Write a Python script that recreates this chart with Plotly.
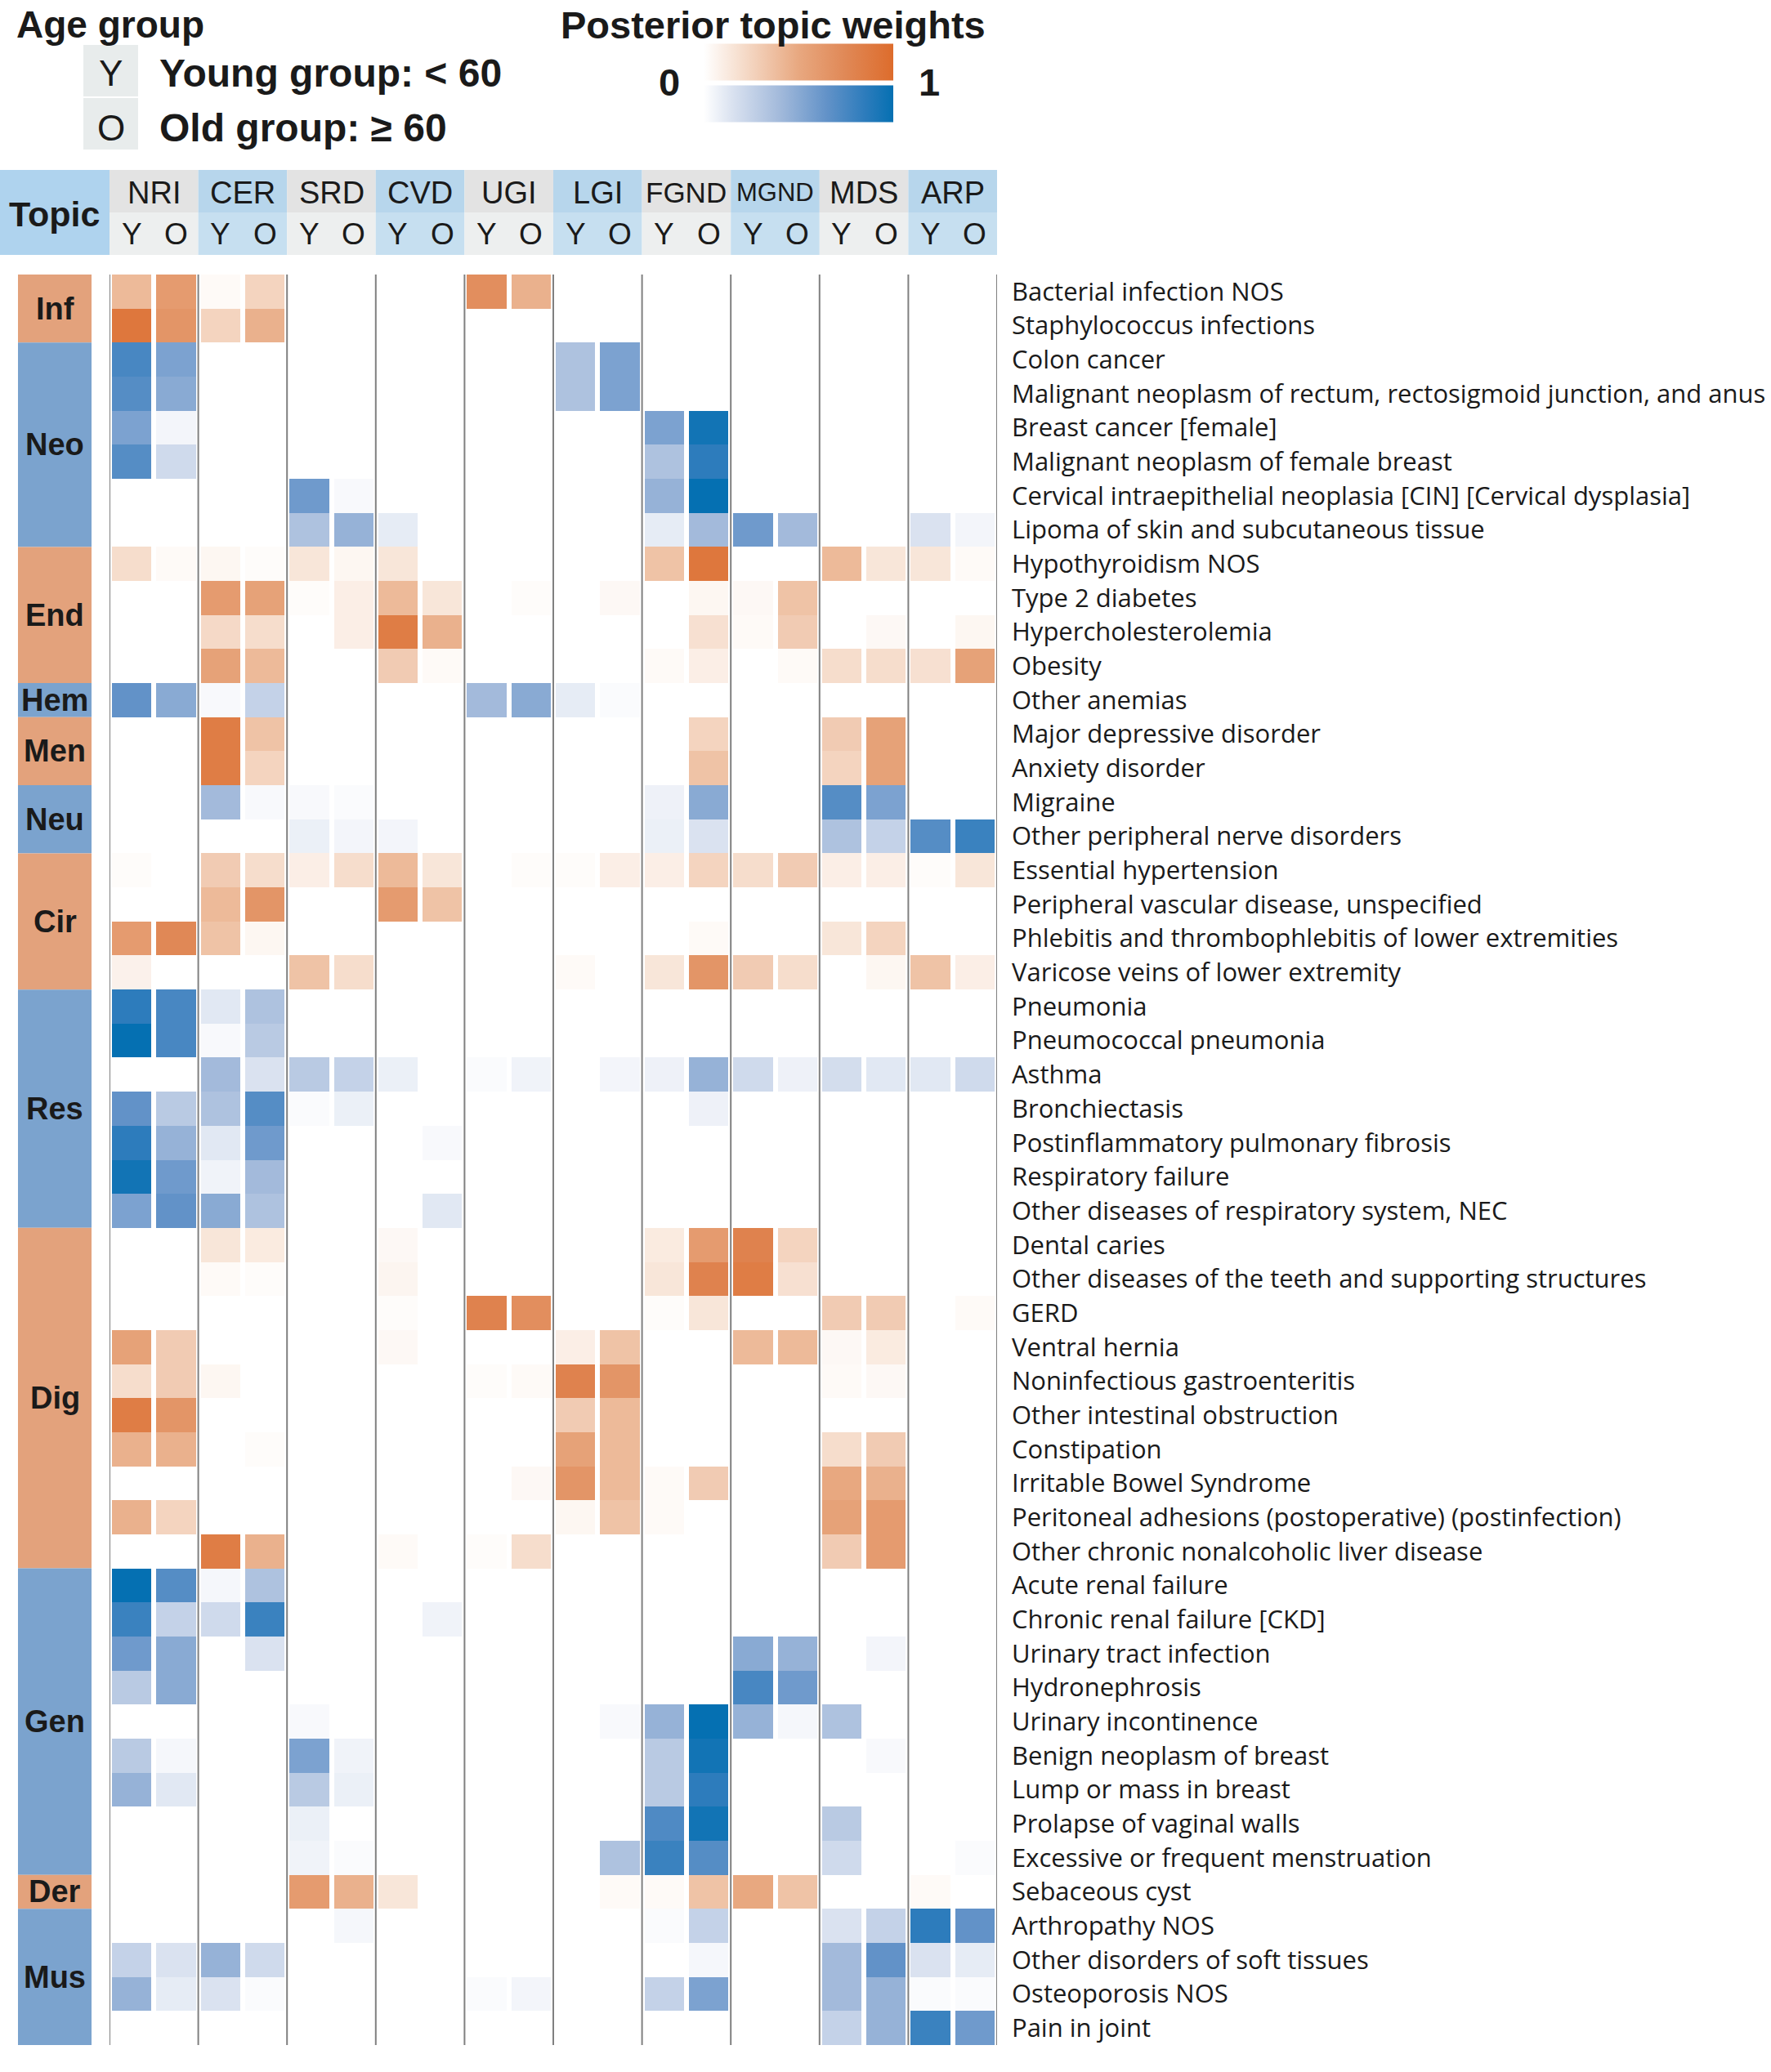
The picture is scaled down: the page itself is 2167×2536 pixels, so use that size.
import plotly.graph_objects as go

W, H = 2167, 2536

# ---------------- data ----------------
topics = ["NRI", "CER", "SRD", "CVD", "UGI", "LGI", "FGND", "MGND", "MDS", "ARP"]
age_groups = ["Y", "O"]

# column order: NRI Y, NRI O, CER Y, CER O, SRD Y, SRD O, CVD Y, CVD O, UGI Y, UGI O,
#               LGI Y, LGI O, FGND Y, FGND O, MGND Y, MGND O, MDS Y, MDS O, ARP Y, ARP O
inf_labels = ["Bacterial infection NOS", "Staphylococcus infections"]
inf_weights = [
    [0.40, 0.60, 0.03, 0.25, 0, 0, 0, 0, 0.70, 0.45, 0, 0, 0, 0, 0, 0, 0, 0, 0, 0],
    [0.90, 0.65, 0.25, 0.45, 0, 0, 0, 0, 0, 0, 0, 0, 0, 0, 0, 0, 0, 0, 0, 0],
]
neo_labels = ["Colon cancer", "Malignant neoplasm of rectum, rectosigmoid junction, and anus",
              "Breast cancer [female]", "Malignant neoplasm of female breast",
              "Cervical intraepithelial neoplasia [CIN] [Cervical dysplasia]",
              "Lipoma of skin and subcutaneous tissue"]
neo_weights = [
    [0.75, 0.55, 0, 0, 0, 0, 0, 0, 0, 0, 0.35, 0.55, 0, 0, 0, 0, 0, 0, 0, 0],
    [0.70, 0.50, 0, 0, 0, 0, 0, 0, 0, 0, 0.35, 0.55, 0, 0, 0, 0, 0, 0, 0, 0],
    [0.55, 0.05, 0, 0, 0, 0, 0, 0, 0, 0, 0, 0, 0.55, 0.95, 0, 0, 0, 0, 0, 0],
    [0.70, 0.20, 0, 0, 0, 0, 0, 0, 0, 0, 0, 0, 0.35, 0.85, 0, 0, 0, 0, 0, 0],
    [0, 0, 0, 0, 0.60, 0.03, 0, 0, 0, 0, 0, 0, 0.45, 1.00, 0, 0, 0, 0, 0, 0],
    [0, 0, 0, 0, 0.35, 0.45, 0.10, 0, 0, 0, 0, 0, 0.10, 0.40, 0.60, 0.40, 0, 0, 0.15, 0.05],
]
end_labels = ["Hypothyroidism NOS", "Type 2 diabetes", "Hypercholesterolemia", "Obesity"]
end_weights = [
    [0.20, 0.03, 0.05, 0.02, 0.15, 0.05, 0.15, 0, 0, 0, 0, 0, 0.35, 0.90, 0, 0, 0.40, 0.15, 0.15, 0.03],
    [0, 0, 0.60, 0.55, 0.02, 0.10, 0.40, 0.15, 0, 0.02, 0, 0.04, 0, 0.05, 0.04, 0.35, 0, 0, 0, 0],
    [0, 0, 0.22, 0.20, 0, 0.10, 0.85, 0.45, 0, 0, 0, 0, 0, 0.18, 0.03, 0.30, 0, 0.04, 0, 0.05],
    [0, 0, 0.55, 0.40, 0, 0, 0.30, 0.03, 0, 0, 0, 0, 0.03, 0.10, 0, 0.03, 0.20, 0.20, 0.18, 0.55],
]
hem_labels = ["Other anemias"]
hem_weights = [
    [0.65, 0.50, 0.03, 0.25, 0, 0, 0, 0, 0.40, 0.50, 0.10, 0.02, 0, 0, 0, 0, 0, 0, 0, 0],
]
men_labels = ["Major depressive disorder", "Anxiety disorder"]
men_weights = [
    [0, 0, 0.85, 0.35, 0, 0, 0, 0, 0, 0, 0, 0, 0, 0.25, 0, 0, 0.30, 0.55, 0, 0],
    [0, 0, 0.85, 0.25, 0, 0, 0, 0, 0, 0, 0, 0, 0, 0.35, 0, 0, 0.25, 0.55, 0, 0],
]
neu_labels = ["Migraine", "Other peripheral nerve disorders"]
neu_weights = [
    [0, 0, 0.40, 0.03, 0.03, 0.02, 0, 0, 0, 0, 0, 0, 0.07, 0.50, 0, 0, 0.70, 0.55, 0, 0],
    [0, 0, 0, 0, 0.08, 0.05, 0.05, 0, 0, 0, 0, 0, 0.08, 0.15, 0, 0, 0.35, 0.25, 0.70, 0.80],
]
cir_labels = ["Essential hypertension", "Peripheral vascular disease, unspecified",
              "Phlebitis and thrombophlebitis of lower extremities",
              "Varicose veins of lower extremity"]
cir_weights = [
    [0.02, 0, 0.30, 0.20, 0.10, 0.20, 0.40, 0.15, 0, 0.02, 0.02, 0.10, 0.10, 0.25, 0.20, 0.30, 0.10, 0.10, 0.02, 0.15],
    [0, 0, 0.40, 0.65, 0, 0, 0.60, 0.35, 0, 0, 0, 0, 0, 0, 0, 0, 0, 0, 0, 0],
    [0.60, 0.75, 0.35, 0.05, 0, 0, 0, 0, 0, 0, 0, 0, 0, 0.03, 0, 0, 0.15, 0.25, 0, 0],
    [0.08, 0, 0, 0, 0.35, 0.20, 0, 0, 0, 0, 0.03, 0, 0.15, 0.65, 0.30, 0.20, 0, 0.05, 0.35, 0.10],
]
res_labels = ["Pneumonia", "Pneumococcal pneumonia", "Asthma", "Bronchiectasis",
              "Postinflammatory pulmonary fibrosis", "Respiratory failure",
              "Other diseases of respiratory system, NEC"]
res_weights = [
    [0.85, 0.75, 0.12, 0.35, 0, 0, 0, 0, 0, 0, 0, 0, 0, 0, 0, 0, 0, 0, 0, 0],
    [1.00, 0.75, 0.03, 0.30, 0, 0, 0, 0, 0, 0, 0, 0, 0, 0, 0, 0, 0, 0, 0, 0],
    [0, 0, 0.40, 0.15, 0.30, 0.25, 0.08, 0, 0.02, 0.06, 0, 0.05, 0.07, 0.45, 0.20, 0.07, 0.18, 0.12, 0.12, 0.20],
    [0.65, 0.30, 0.35, 0.70, 0.02, 0.08, 0, 0, 0, 0, 0, 0, 0, 0.07, 0, 0, 0, 0, 0, 0],
    [0.85, 0.45, 0.12, 0.60, 0, 0, 0, 0.03, 0, 0, 0, 0, 0, 0, 0, 0, 0, 0, 0, 0],
    [0.95, 0.60, 0.06, 0.40, 0, 0, 0, 0, 0, 0, 0, 0, 0, 0, 0, 0, 0, 0, 0, 0],
    [0.55, 0.65, 0.50, 0.35, 0, 0, 0, 0.12, 0, 0, 0, 0, 0, 0, 0, 0, 0, 0, 0, 0],
]
dig_labels = ["Dental caries", "Other diseases of the teeth and supporting structures", "GERD",
              "Ventral hernia", "Noninfectious gastroenteritis", "Other intestinal obstruction",
              "Constipation", "Irritable Bowel Syndrome",
              "Peritoneal adhesions (postoperative) (postinfection)",
              "Other chronic nonalcoholic liver disease"]
dig_weights = [
    [0, 0, 0.15, 0.12, 0, 0, 0.04, 0, 0, 0, 0, 0, 0.12, 0.60, 0.80, 0.25, 0, 0, 0, 0],
    [0, 0, 0.03, 0.02, 0, 0, 0.06, 0, 0, 0, 0, 0, 0.15, 0.80, 0.85, 0.18, 0, 0, 0, 0],
    [0, 0, 0, 0, 0, 0, 0.02, 0, 0.80, 0.70, 0, 0, 0.02, 0.15, 0, 0, 0.30, 0.30, 0, 0.03],
    [0.55, 0.30, 0, 0, 0, 0, 0.04, 0, 0, 0, 0.10, 0.35, 0, 0, 0.40, 0.40, 0.04, 0.12, 0, 0],
    [0.20, 0.30, 0.05, 0, 0, 0, 0, 0, 0.02, 0.03, 0.80, 0.65, 0, 0, 0, 0, 0.03, 0.04, 0, 0],
    [0.85, 0.65, 0, 0, 0, 0, 0, 0, 0, 0, 0.30, 0.40, 0, 0, 0, 0, 0, 0, 0, 0],
    [0.45, 0.45, 0, 0.02, 0, 0, 0, 0, 0, 0, 0.55, 0.40, 0, 0, 0, 0, 0.20, 0.30, 0, 0],
    [0, 0, 0, 0, 0, 0, 0, 0, 0, 0.04, 0.65, 0.40, 0.03, 0.30, 0, 0, 0.50, 0.45, 0, 0],
    [0.45, 0.25, 0, 0, 0, 0, 0, 0, 0, 0, 0.05, 0.35, 0.03, 0, 0, 0, 0.55, 0.60, 0, 0],
    [0, 0, 0.85, 0.45, 0, 0, 0.03, 0, 0.02, 0.20, 0, 0, 0, 0, 0, 0, 0.30, 0.60, 0, 0],
]
gen_labels = ["Acute renal failure", "Chronic renal failure [CKD]", "Urinary tract infection",
              "Hydronephrosis", "Urinary incontinence", "Benign neoplasm of breast",
              "Lump or mass in breast", "Prolapse of vaginal walls",
              "Excessive or frequent menstruation"]
gen_weights = [
    [1.00, 0.70, 0.04, 0.35, 0, 0, 0, 0, 0, 0, 0, 0, 0, 0, 0, 0, 0, 0, 0, 0],
    [0.80, 0.25, 0.20, 0.80, 0, 0, 0, 0.06, 0, 0, 0, 0, 0, 0, 0, 0, 0, 0, 0, 0],
    [0.60, 0.50, 0, 0.15, 0, 0, 0, 0, 0, 0, 0, 0, 0, 0, 0.50, 0.45, 0, 0.05, 0, 0],
    [0.30, 0.50, 0, 0, 0, 0, 0, 0, 0, 0, 0, 0, 0, 0, 0.75, 0.60, 0, 0, 0, 0],
    [0, 0, 0, 0, 0.03, 0, 0, 0, 0, 0, 0, 0.03, 0.45, 1.00, 0.45, 0.04, 0.35, 0, 0, 0],
    [0.30, 0.04, 0, 0, 0.55, 0.06, 0, 0, 0, 0, 0, 0, 0.30, 0.95, 0, 0, 0, 0.03, 0, 0],
    [0.45, 0.12, 0, 0, 0.30, 0.08, 0, 0, 0, 0, 0, 0, 0.30, 0.85, 0, 0, 0, 0, 0, 0],
    [0, 0, 0, 0, 0.08, 0, 0, 0, 0, 0, 0, 0, 0.72, 0.95, 0, 0, 0.30, 0, 0, 0],
    [0, 0, 0, 0, 0.06, 0.02, 0, 0, 0, 0, 0, 0.35, 0.80, 0.70, 0, 0, 0.20, 0, 0, 0.02],
]
der_labels = ["Sebaceous cyst"]
der_weights = [
    [0, 0, 0, 0, 0.60, 0.45, 0.15, 0, 0, 0, 0, 0.03, 0.03, 0.35, 0.50, 0.35, 0, 0, 0.03, 0],
]
mus_labels = ["Arthropathy NOS", "Other disorders of soft tissues", "Osteoporosis NOS", "Pain in joint"]
mus_weights = [
    [0, 0, 0, 0, 0, 0.04, 0, 0, 0, 0, 0, 0, 0.02, 0.25, 0, 0, 0.15, 0.25, 0.85, 0.65],
    [0.25, 0.15, 0.45, 0.20, 0, 0, 0, 0, 0, 0, 0, 0, 0, 0.04, 0, 0, 0.40, 0.65, 0.15, 0.10],
    [0.45, 0.10, 0.15, 0.02, 0, 0, 0, 0, 0.02, 0.05, 0, 0, 0.25, 0.55, 0, 0, 0.40, 0.45, 0.02, 0.02],
    [0, 0, 0, 0, 0, 0, 0, 0, 0, 0, 0, 0, 0, 0, 0, 0, 0.25, 0.45, 0.80, 0.60],
]

categories = ["Inf", "Neo", "End", "Hem", "Men", "Neu", "Cir", "Res", "Dig", "Gen", "Der", "Mus"]
category_rows = [
    (inf_labels, inf_weights), (neo_labels, neo_weights), (end_labels, end_weights),
    (hem_labels, hem_weights), (men_labels, men_weights), (neu_labels, neu_weights),
    (cir_labels, cir_weights), (res_labels, res_weights), (dig_labels, dig_weights),
    (gen_labels, gen_weights), (der_labels, der_weights), (mus_labels, mus_weights),
]

# ---------------- styles ----------------
ORANGE_SCALE = [[0, "rgb(255,255,255)"], [0.2, "rgb(246,221,204)"], [0.5, "rgb(232,168,128)"],
                [0.75, "rgb(224,136,86)"], [1, "rgb(221,108,44)"]]
BLUE_SCALE = [[0, "rgb(255,255,255)"], [0.15, "rgb(218,226,240)"], [0.4, "rgb(163,186,219)"],
              [0.65, "rgb(98,146,200)"], [0.85, "rgb(45,124,188)"], [1, "rgb(5,112,178)"]]
ORANGE_BAR = "#E3A27C"
BLUE_BAR = "#7BA3CE"
HEAD_FONT = "Liberation Sans"
LABEL_FONT = "Open Sans"
TXT = "#1a1a1a"


def px(x):
    return x / W


def py(y):
    return 1 - y / H


# ---------------- assemble matrix ----------------
labels, z_or, z_bl, cat_spans = [], [], [], []
row = 0
for ci, (labs, vals) in enumerate(category_rows):
    is_orange = ci % 2 == 0
    cat_spans.append((categories[ci], row, row + len(labs) - 1, is_orange))
    for lab, v in zip(labs, vals):
        labels.append(lab)
        z_or.append(v if is_orange else [None] * len(v))
        z_bl.append([None] * len(v) if is_orange else v)
        row += 1
n_rows = len(labels)
n_cols = len(topics) * len(age_groups)

X0, X1 = 134, 1220
Y0, Y1 = 336, 2503

common = dict(x=list(range(n_cols)), y=list(range(n_rows)), zmin=0, zmax=1,
              xgap=6, ygap=0, hoverinfo="skip")
cb_common = dict(orientation="h", x=px(977), xanchor="center", yanchor="middle",
                 len=232, lenmode="pixels", thickness=45, thicknessmode="pixels",
                 showticklabels=False, ticks="", outlinewidth=0, xpad=0, ypad=0)

fig = go.Figure()
fig.add_trace(go.Heatmap(z=z_or, colorscale=ORANGE_SCALE,
                         colorbar=dict(y=py(76), **cb_common), **common))
fig.add_trace(go.Heatmap(z=z_bl, colorscale=BLUE_SCALE,
                         colorbar=dict(y=py(127), **cb_common), **common))

shapes, ann = [], []

# vertical separators between topics
for k in range(len(topics) + 1):
    shapes.append(dict(type="line", xref="x", yref="y", x0=k * 2 - 0.5, x1=k * 2 - 0.5,
                       y0=-0.5, y1=n_rows - 0.5, line=dict(color="#808080", width=2)))

# category bars + labels
for name, r0, r1, is_or in cat_spans:
    shapes.append(dict(type="rect", xref="paper", yref="y", x0=px(22), x1=px(112),
                       y0=r0 - 0.5, y1=r1 + 0.5, fillcolor=ORANGE_BAR if is_or else BLUE_BAR,
                       line=dict(width=0), layer="below"))
    ann.append(dict(xref="paper", yref="y", x=px(67), y=(r0 + r1) / 2, text=name,
                    showarrow=False, xanchor="center", yanchor="middle",
                    font=dict(family=HEAD_FONT, size=38, color=TXT, weight="bold")))

# header table
shapes.append(dict(type="rect", xref="paper", yref="paper", x0=0, x1=px(X0),
                   y0=py(312), y1=py(208), fillcolor="#AFD3EE", line=dict(width=0)))
ann.append(dict(xref="paper", yref="paper", x=px(66), y=py(262), text="Topic", showarrow=False,
                xanchor="center", yanchor="middle",
                font=dict(family=HEAD_FONT, size=43, color=TXT, weight="bold")))
name_sizes = {"FGND": 35, "MGND": 31}
for i, t in enumerate(topics):
    blue = i % 2 == 1
    shapes.append(dict(type="rect", xref="x", yref="paper", x0=2 * i - 0.5, x1=2 * i + 1.5,
                       y0=py(260), y1=py(208), fillcolor="#B7D6EC" if blue else "#E3E3E3",
                       line=dict(width=0)))
    shapes.append(dict(type="rect", xref="x", yref="paper", x0=2 * i - 0.5, x1=2 * i + 1.5,
                       y0=py(312), y1=py(260), fillcolor="#C6DFF0" if blue else "#EDEFEF",
                       line=dict(width=0)))
    ann.append(dict(xref="x", yref="paper", x=2 * i + 0.5, y=py(236), text=t, showarrow=False,
                    xanchor="center", yanchor="middle",
                    font=dict(family=HEAD_FONT, size=name_sizes.get(t, 38), color=TXT)))
    for j, g in enumerate(age_groups):
        ann.append(dict(xref="x", yref="paper", x=2 * i + j, y=py(287), text=g, showarrow=False,
                        xanchor="center", yanchor="middle",
                        font=dict(family=HEAD_FONT, size=37, color=TXT)))

# age group legend
ann.append(dict(xref="paper", yref="paper", x=px(18), y=py(30), text="Age group", showarrow=False,
                xanchor="left", yanchor="middle",
                font=dict(family=HEAD_FONT, size=46, color=TXT, weight="bold")))
legend_text = ["Young group: < 60", "Old group: \u2265 60"]
legend_rows = [(55, 118), (120, 183)]
text_centres = [89, 157]
for (g, txt), (ytop, ybot), yc in zip(zip(age_groups, legend_text), legend_rows, text_centres):
    shapes.append(dict(type="rect", xref="paper", yref="paper", x0=px(102), x1=px(169),
                       y0=py(ybot), y1=py(ytop), fillcolor="#E8ECEC", line=dict(width=0)))
    ann.append(dict(xref="paper", yref="paper", x=px(135.5), y=py(yc), text=g,
                    showarrow=False, xanchor="center", yanchor="middle",
                    font=dict(family=HEAD_FONT, size=44, color=TXT)))
    ann.append(dict(xref="paper", yref="paper", x=px(193), y=py(yc), text=txt,
                    showarrow=False, xanchor="left", yanchor="middle",
                    font=dict(family=HEAD_FONT, size=48, color=TXT, weight="bold")))

# colour legend
ann.append(dict(xref="paper", yref="paper", x=px(684), y=py(30), text="Posterior topic weights",
                showarrow=False, xanchor="left", yanchor="middle",
                font=dict(family=HEAD_FONT, size=47, color=TXT, weight="bold")))
ann.append(dict(xref="paper", yref="paper", x=px(819), y=py(101), text="0", showarrow=False,
                xanchor="center", yanchor="middle",
                font=dict(family=HEAD_FONT, size=47, color=TXT, weight="bold")))
ann.append(dict(xref="paper", yref="paper", x=px(1137), y=py(101), text="1", showarrow=False,
                xanchor="center", yanchor="middle",
                font=dict(family=HEAD_FONT, size=47, color=TXT, weight="bold")))

fig.update_layout(
    width=W, height=H, margin=dict(l=0, r=0, t=0, b=0),
    paper_bgcolor="white", plot_bgcolor="white",
    shapes=shapes, annotations=ann, showlegend=False,
    xaxis=dict(domain=[px(X0), px(X1)], range=[-0.5, n_cols - 0.5], showticklabels=False,
               showgrid=False, zeroline=False, ticks="", fixedrange=True),
    yaxis=dict(domain=[py(Y1), py(Y0)], range=[n_rows - 0.5, -0.5], side="right",
               tickvals=list(range(n_rows)), ticktext=labels, showgrid=False, zeroline=False,
               ticks="", ticklabelstandoff=17,
               tickfont=dict(family=LABEL_FONT, size=31, color=TXT)),
)

fig.write_html("out.html", config={"displayModeBar": False},
               post_script="document.body.style.margin='0px';document.body.style.overflow='hidden';")
